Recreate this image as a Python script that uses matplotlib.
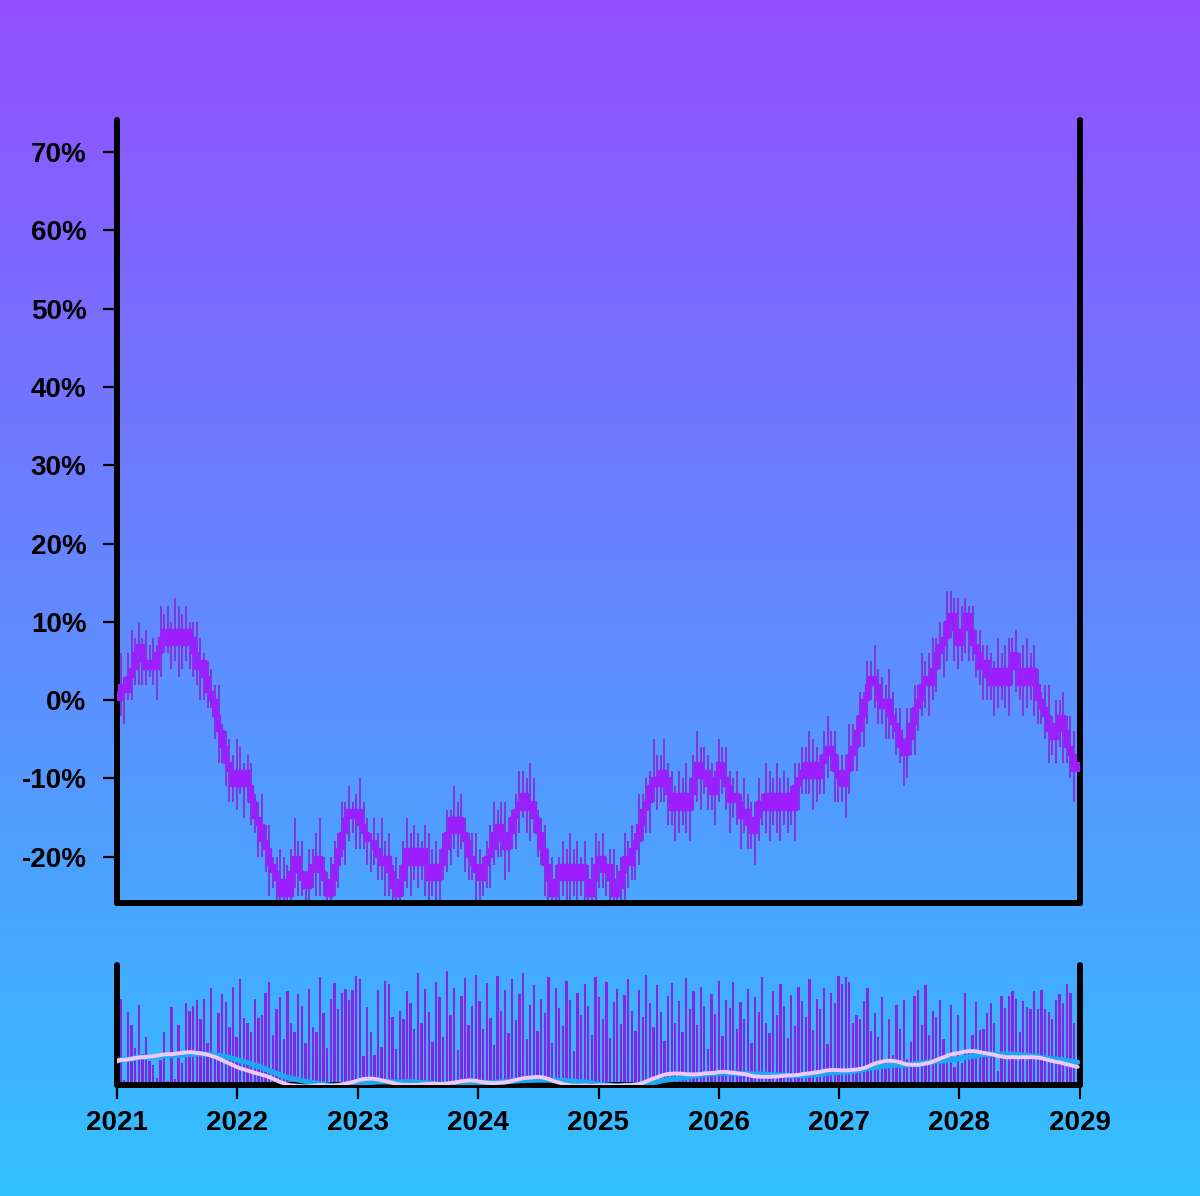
import numpy as np
import pandas as pd
import matplotlib
matplotlib.use("Agg")
import matplotlib.pyplot as plt
import matplotlib.dates as mdates
from matplotlib.colors import LinearSegmentedColormap

# ---------------- data ----------------
dates = pd.date_range("2021-01-01", periods=266, freq="11D")
first_open = 1
close = [
    0, 2, 1, 3, 4, 6, 7, 5, 4, 5,
    4, 6, 8, 9, 7, 9, 7, 9, 7, 9,
    8, 6, 4, 5, 3, 1, 0, -2, -4, -6,
    -8, -9, -11, -9, -11, -9, -11, -13, -15, -16,
    -18, -19, -21, -22, -23, -25, -23, -25, -22, -20,
    -22, -23, -24, -22, -21, -20, -22, -23, -25, -23,
    -21, -19, -17, -15, -14, -15, -14, -16, -17, -18,
    -18, -19, -20, -21, -20, -22, -24, -25, -23, -21,
    -19, -21, -19, -21, -19, -21, -23, -21, -23, -21,
    -19, -17, -15, -17, -15, -17, -18, -20, -21, -22,
    -23, -21, -20, -19, -17, -16, -18, -19, -17, -15,
    -14, -13, -12, -14, -13, -15, -17, -19, -21, -23,
    -25, -23, -21, -23, -21, -23, -21, -23, -21, -23,
    -25, -23, -21, -20, -22, -21, -23, -25, -24, -22,
    -20, -21, -19, -18, -16, -14, -13, -11, -10, -11,
    -9, -10, -12, -14, -12, -14, -12, -14, -12, -10,
    -8, -10, -9, -11, -12, -10, -8, -10, -11, -13,
    -12, -13, -15, -14, -16, -17, -15, -13, -14, -12,
    -14, -12, -14, -12, -14, -12, -14, -11, -10, -9,
    -8, -10, -8, -10, -8, -7, -6, -7, -9, -10,
    -11, -9, -7, -6, -4, -2, 0, 2, 3, 2,
    0, -1, 0, -2, -3, -4, -6, -7, -5, -3,
    -1, 0, 2, 3, 2, 4, 6, 7, 8, 10,
    11, 9, 7, 9, 11, 9, 7, 6, 4, 5,
    3, 2, 4, 2, 4, 2, 4, 6, 4, 2,
    4, 2, 4, 2, 0, -1, -2, -4, -5, -3,
    -2, -4, -6, -7, -9, -8,
]
high_ext = [
    2, 4, 1, 3, 5, 2, 3, 1, 4, 2,
    3, 1, 4, 2, 3, 1, 4, 3, 2, 3,
    1, 2, 4, 3, 1, 2, 3, 2, 4, 1,
    2, 3, 2, 4, 3, 1, 2, 3, 1, 2,
    4, 2, 3, 1, 2, 4, 3, 2, 3, 5,
    2, 4, 1, 3, 2, 3, 5, 2, 1, 3,
    3, 2, 4, 2, 3, 1, 2, 4, 3, 2,
    1, 3, 2, 5, 2, 3, 1, 4, 2, 3,
    4, 2, 3, 2, 1, 3, 4, 2, 3, 2,
    2, 3, 1, 4, 2, 3, 2, 1, 3, 4,
    3, 1, 2, 3, 4, 2, 3, 5, 2, 1,
    2, 4, 3, 2, 5, 3, 1, 2, 3, 2,
    3, 2, 1, 3, 2, 4, 2, 3, 1, 3,
    2, 3, 4, 2, 3, 1, 2, 4, 3, 2,
    3, 2, 3, 1, 4, 2, 3, 2, 5, 3,
    2, 4, 2, 3, 1, 3, 2, 4, 2, 3,
    4, 2, 3, 2, 3, 1, 3, 2, 4, 2,
    2, 3, 1, 4, 2, 3, 2, 3, 1, 4,
    3, 2, 4, 2, 3, 2, 1, 3, 2, 3,
    2, 4, 3, 2, 1, 3, 4, 2, 3, 2,
    3, 2, 4, 3, 2, 3, 1, 3, 2, 4,
    2, 3, 2, 4, 3, 2, 3, 1, 4, 2,
    3, 2, 4, 2, 3, 4, 2, 3, 2, 4,
    3, 2, 4, 3, 2, 1, 3, 2, 3, 2,
    2, 3, 1, 4, 2, 3, 4, 2, 3, 2,
    3, 4, 2, 3, 2, 1, 3, 4, 2, 3,
    2, 3, 2, 4, 3, 2,
]
low_ext = [
    3, 2, 4, 1, 3, 2, 4, 3, 2, 1,
    2, 4, 3, 2, 1, 3, 2, 4, 3, 2,
    4, 3, 2, 4, 3, 2, 1, 3, 4, 2,
    3, 4, 2, 3, 1, 4, 2, 3, 2, 4,
    2, 3, 4, 2, 5, 3, 2, 4, 3, 2,
    3, 2, 4, 3, 2, 4, 3, 2, 3, 4,
    2, 3, 1, 4, 3, 2, 4, 3, 2, 3,
    4, 2, 3, 2, 4, 3, 2, 3, 4, 2,
    3, 4, 2, 3, 2, 4, 3, 2, 4, 3,
    2, 3, 4, 2, 3, 2, 4, 3, 2, 4,
    3, 2, 3, 4, 2, 3, 2, 4, 3, 2,
    4, 3, 2, 3, 4, 2, 3, 2, 4, 3,
    2, 4, 3, 2, 3, 4, 2, 3, 2, 4,
    3, 2, 4, 3, 2, 3, 4, 2, 3, 2,
    4, 3, 2, 4, 3, 2, 3, 4, 2, 3,
    2, 3, 4, 2, 4, 3, 2, 3, 4, 2,
    3, 4, 2, 3, 2, 4, 3, 2, 3, 4,
    2, 3, 4, 2, 3, 2, 4, 3, 2, 3,
    4, 2, 3, 4, 2, 3, 2, 4, 3, 2,
    3, 2, 4, 3, 2, 4, 3, 2, 4, 3,
    2, 4, 3, 2, 3, 2, 4, 3, 2, 3,
    3, 2, 4, 3, 2, 3, 2, 4, 3, 2,
    4, 3, 2, 3, 4, 2, 3, 2, 4, 3,
    2, 4, 3, 2, 3, 4, 2, 3, 2, 4,
    3, 2, 4, 3, 2, 3, 4, 2, 3, 2,
    4, 3, 2, 4, 3, 2, 3, 4, 2, 3,
    3, 4, 2, 3, 4, 5,
]
volume = [
    37, 72, 4, 61, 50, 31, 67, 26, 40, 20,
    17, 6, 21, 44, 3, 65, 5, 50, 18, 68,
    62, 66, 71, 55, 72, 35, 81, 25, 60, 76,
    69, 48, 82, 40, 88, 56, 52, 44, 72, 56,
    58, 77, 86, 42, 63, 73, 38, 78, 52, 44,
    76, 66, 35, 80, 48, 44, 90, 60, 31, 72,
    85, 63, 77, 80, 71, 79, 91, 88, 24, 65,
    44, 25, 79, 32, 87, 84, 57, 30, 62, 55,
    78, 68, 47, 93, 52, 80, 61, 36, 86, 73,
    40, 95, 58, 81, 29, 74, 89, 50, 66, 92,
    70, 47, 85, 56, 33, 91, 62, 79, 43, 88,
    54, 76, 93, 38, 67, 83, 45, 72, 60, 90,
    35, 81, 64, 49, 87, 71, 28, 77, 58, 84,
    66, 42, 90, 73, 55, 86, 39, 69, 80, 51,
    75, 88, 62, 45, 79, 57, 92, 68, 48, 83,
    61, 37, 74, 85, 52, 70, 44, 89, 63, 78,
    50, 82, 66, 30, 76, 59, 87, 41, 71, 64,
    86, 47, 69, 55, 80, 35, 73, 61, 90, 52,
    43, 78, 58, 84, 66, 39, 75, 49, 82, 70,
    57, 88, 46, 72, 63, 81, 34, 77, 68, 91,
    84, 90, 86, 52, 58, 55, 70, 81, 45, 60,
    40, 73, 18, 55, 25, 67, 47, 71, 22, 36,
    74, 79, 50, 83, 42, 62, 57, 71, 38, 23,
    67, 15, 58, 18, 77, 28, 42, 69, 46, 47,
    60, 68, 52, 12, 74, 64, 74, 78, 72, 44,
    70, 65, 63, 78, 63, 79, 63, 61, 55, 71,
    76, 68, 84, 77, 52, 68,
]
year_ticks = list(range(2021, 2030))
y_ticks = list(range(-20, 80, 10))
fast_window = 9
slow_window = 20

# ---------------- derived ----------------
close = np.array(close, dtype=float)
open_ = np.r_[first_open, close[:-1]]
body_top = np.maximum(open_, close)
body_bot = np.minimum(open_, close)
high = body_top + np.array(high_ext, dtype=float)
low = body_bot - np.array(low_ext, dtype=float)
x = mdates.date2num(dates)
ma_fast = pd.Series(close).rolling(fast_window, min_periods=1).mean().values
ma_slow = pd.Series(close).rolling(slow_window, min_periods=1).mean().values

plt.rcParams["font.family"] = ["Liberation Sans", "DejaVu Sans"]
plt.rcParams["font.weight"] = "bold"

fig = plt.figure(figsize=(12, 11.96), dpi=100)

# gradient background
bg = fig.add_axes([0, 0, 1, 1], zorder=-10)
grad = np.linspace(0, 1, 512).reshape(-1, 1)
cmap = LinearSegmentedColormap.from_list("bg", ["#934FFF", "#32C1FF"])
bg.imshow(grad, aspect="auto", cmap=cmap, extent=[0, 1, 0, 1], origin="upper")
bg.axis("off")

xmin = mdates.date2num(pd.Timestamp("2021-01-01"))
xmax = mdates.date2num(pd.Timestamp("2029-01-01"))
SP = 4.3

def style_spines(a):
    for s in ["left", "right", "bottom"]:
        a.spines[s].set_linewidth(SP)
        a.spines[s].set_color("black")
        a.spines[s].set_capstyle("round")
    a.spines["top"].set_visible(False)

# main price panel
ax = fig.add_axes([0.0975, 0.245, 0.8025, 0.6547])
ax.patch.set_alpha(0)
ax.vlines(x, low, high, color="#7F36E0", lw=1.4, zorder=2)
ax.bar(x, body_top - body_bot, bottom=body_bot, width=10.5, color="#9C1EFF",
       edgecolor="#9C1EFF", linewidth=1.6, zorder=3)
ax.set_xlim(xmin, xmax)
ax.set_ylim(-25.9, 74.1)
ax.set_yticks(y_ticks)
ax.set_yticklabels([f"{v}%" for v in y_ticks])
ax.tick_params(axis="y", length=10, width=1.6, pad=12, labelsize=20, colors="black")
ax.tick_params(axis="x", bottom=False, labelbottom=False)
for lab in ax.get_yticklabels():
    lab.set_fontweight("bold")
style_spines(ax)

# volume panel
axv = fig.add_axes([0.0975, 0.0928, 0.8025, 0.1004])
axv.patch.set_alpha(0)
axv.bar(x, volume, width=7.0, color="#8426E6", linewidth=0, zorder=2)
axv.set_xlim(xmin, xmax)
axv.set_ylim(0, 100)
axv.set_yticks([])
tick_pos = [mdates.date2num(pd.Timestamp(f"{y}-01-01")) for y in year_ticks]
axv.set_xticks(tick_pos)
axv.set_xticklabels([str(y) for y in year_ticks])
axv.tick_params(axis="x", length=10, width=1.6, pad=8, labelsize=20, colors="black")
for lab in axv.get_xticklabels():
    lab.set_fontweight("bold")
style_spines(axv)

axm = axv.twinx()
axm.set_ylim(-21.8, 87.3)
axm.plot(x, ma_slow, color="#1EA8F0", lw=3.8, solid_capstyle="round", zorder=3)
axm.plot(x, ma_fast, color="#F0C8F0", lw=2.8, solid_capstyle="round", zorder=4)
axm.set_yticks([])
for s in axm.spines.values():
    s.set_visible(False)

fig.savefig("out.png", dpi=100)
